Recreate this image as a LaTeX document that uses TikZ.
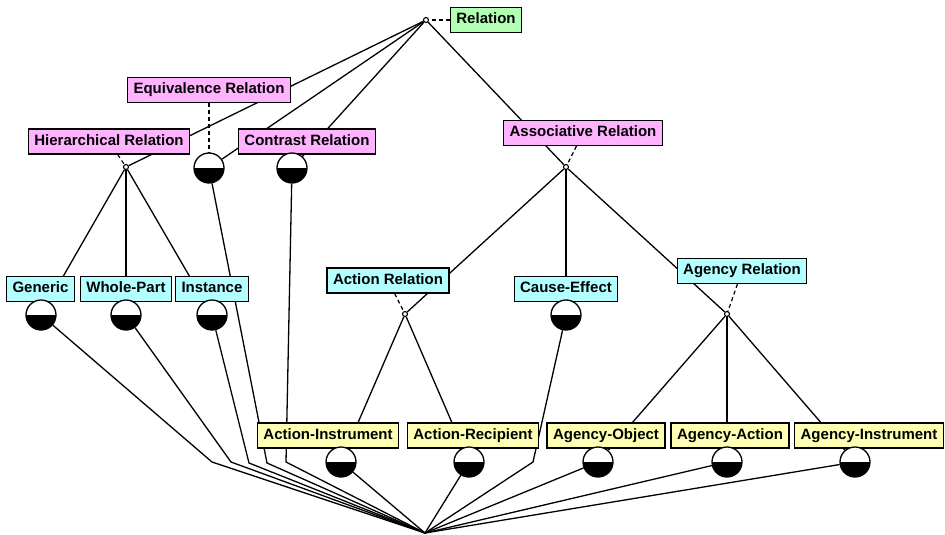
\documentclass[tikz,border=0pt]{standalone}
\usepackage{fontspec}
\setmainfont{Liberation Sans}
\usetikzlibrary{backgrounds}
\definecolor{rootgreen}{HTML}{B3FFB3}
\definecolor{relpink}{HTML}{FFB3FF}
\definecolor{relcyan}{HTML}{B3FFFF}
\definecolor{relyellow}{HTML}{FFFFB3}
\begin{document}
\begin{tikzpicture}[x=1pt,y=-1pt,
  lbl/.style={draw, line width=1.2pt, font=\bfseries\fontsize{15}{18}\selectfont,
    inner xsep=6pt, inner ysep=4.5pt, text height=11.5pt, text depth=4.5pt},
  toplbl/.style={lbl, fill=rootgreen},
  pinklbl/.style={lbl, fill=relpink},
  cyanlbl/.style={lbl, fill=relcyan},
  yellowlbl/.style={lbl, fill=relyellow},
  halfc/.style={circle, draw, line width=1.3pt, fill=white, minimum size=30pt, inner sep=0pt,
    path picture={\fill[black] (path picture bounding box.west) rectangle (path picture bounding box.south east);}},
  junction/.style={circle, draw, line width=1.1pt, fill=white, minimum size=5pt, inner sep=0pt},
  link/.style={line width=1.3pt},
  labellink/.style={line width=1.2pt, dash pattern=on 4pt off 3pt}
]
\useasboundingbox (0,0) rectangle (945,535);

% top of the lattice
\node[junction] (root) at (426,20) {};
\node[toplbl] (relation) at (486,20) {Relation};

% first level
\node[pinklbl] (equivbox) at (209,90) {Equivalence Relation};
\node[halfc] (equiv) at (209,168) {};
\node[pinklbl] (hierbox) at (109,141.5) {Hierarchical Relation};
\node[junction] (hier) at (126,167) {};
\node[pinklbl] (contrastbox) at (307,141.5) {Contrast Relation};
\node[halfc] (contrast) at (292,168) {};
\node[pinklbl] (assocbox) at (583,133) {Associative Relation};
\node[junction] (assoc) at (566,167) {};

% second level
\node[cyanlbl] (genericbox) at (40.5,289) {Generic};
\node[halfc] (generic) at (41,315) {};
\node[cyanlbl] (wholebox) at (126,289) {Whole-Part};
\node[halfc] (whole) at (126,315) {};
\node[cyanlbl] (instancebox) at (212,289) {Instance};
\node[halfc] (instance) at (212,315) {};
\node[cyanlbl] (actionbox) at (388,280.5) {Action Relation};
\node[junction] (action) at (405,314) {};
\node[cyanlbl] (causebox) at (566,289) {Cause-Effect};
\node[halfc] (cause) at (566,315) {};
\node[cyanlbl] (agencybox) at (742,271) {Agency Relation};
\node[junction] (agency) at (727,314) {};

% third level
\node[yellowlbl] (actinstbox) at (328,435.5) {Action-Instrument};
\node[halfc] (actinst) at (341,462) {};
\node[yellowlbl] (actrecbox) at (473,435.5) {Action-Recipient};
\node[halfc] (actrec) at (469,462) {};
\node[yellowlbl] (agobjbox) at (606,435.5) {Agency-Object};
\node[halfc] (agobj) at (598,462) {};
\node[yellowlbl] (agactbox) at (730,435.5) {Agency-Action};
\node[halfc] (agact) at (727,462) {};
\node[yellowlbl] (aginstbox) at (869,435.5) {Agency-Instrument};
\node[halfc] (aginst) at (855,462) {};

% bottom of the lattice and the bends leading into it
\coordinate (sink) at (425,533);
\coordinate (b1) at (212,462);
\coordinate (b2) at (231,462);
\coordinate (b3) at (249,463);
\coordinate (b4) at (267,463);
\coordinate (b5) at (286,462);
\coordinate (b6) at (533,462);

\begin{pgfonlayer}{background}
  % labels attached to their concepts
  \draw[labellink] (relation) -- (root);
  \draw[labellink] (equivbox) -- (equiv);
  \draw[labellink] (hierbox) -- (hier);
  \draw[labellink] (assocbox) -- (assoc);
  \draw[labellink] (actionbox) -- (action);
  \draw[labellink] (agencybox) -- (agency);

  % upper links
  \draw[link] (root) -- (hier);
  \draw[link] (root) -- (equiv);
  \draw[link] (root) -- (contrast);
  \draw[link] (root) -- (assoc);
  \draw[link] (hier) -- (generic);
  \draw[link] (hier) -- (whole);
  \draw[link] (hier) -- (instance);
  \draw[link] (assoc) -- (action);
  \draw[link] (assoc) -- (cause);
  \draw[link] (assoc) -- (agency);
  \draw[link] (action) -- (actinst);
  \draw[link] (action) -- (actrec);
  \draw[link] (agency) -- (agobj);
  \draw[link] (agency) -- (agact);
  \draw[link] (agency) -- (aginst);

  % lower links
  \draw[link] (generic) -- (b1) -- (sink);
  \draw[link] (whole) -- (b2) -- (sink);
  \draw[link] (instance) -- (b3) -- (sink);
  \draw[link] (equiv) -- (b4) -- (sink);
  \draw[link] (contrast) -- (b5) -- (sink);
  \draw[link] (actinst) -- (sink);
  \draw[link] (actrec) -- (sink);
  \draw[link] (cause) -- (b6) -- (sink);
  \draw[link] (agobj) -- (sink);
  \draw[link] (agact) -- (sink);
  \draw[link] (aginst) -- (sink);
\end{pgfonlayer}
\end{tikzpicture}
\end{document}
